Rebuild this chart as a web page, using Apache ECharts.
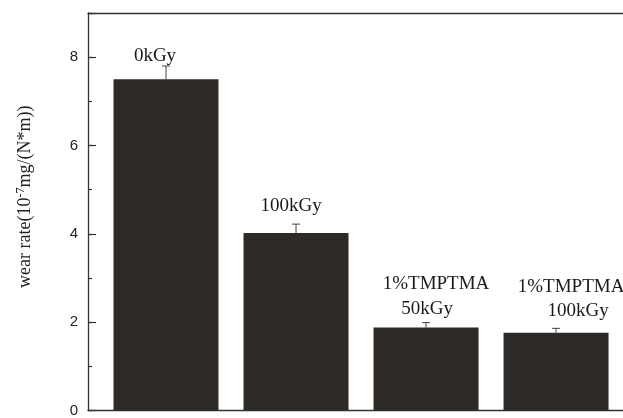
<!DOCTYPE html>
<html>
<head>
<meta charset="utf-8">
<script src="https://cdn.jsdelivr.net/npm/echarts@6/dist/echarts.min.js"></script>
<style>html,body{margin:0;padding:0;background:#fff}#c{width:623px;height:418px}</style>
</head>
<body>
<div id="c"></div>
<script>
const categories = ['0kGy', '100kGy', '1%TMPTMA 50kGy', '1%TMPTMA 100kGy'];
const labelLines = [['0kGy'], ['100kGy'], ['1%TMPTMA', '50kGy'], ['1%TMPTMA', '100kGy']];
const xPositions = [1, 2, 3, 4];
const wearRate = [7.5, 4.02, 1.88, 1.76];
const errors = [0.3, 0.2, 0.11, 0.1];
const yTickValues = [0, 2, 4, 6, 8];

// label placement (style): per bar, per line [dx from bar centre, baseline dy from error-bar top]
const labelPlace = [
  [[-11, -9]],
  [[-5, -18]],
  [[10, -38.5], [1, -13.5]],
  [[15, -41], [22, -17]]
];

const axisColor = '#333';
const chart = echarts.init(document.getElementById('c'), null, {renderer: 'canvas'});
chart.setOption({
  animation: false,
  grid: {left: 88, top: 13, right: 0, bottom: 4, containLabel: false},
  xAxis: [
    {type: 'value', min: 0.4, max: 4.515, position: 'bottom',
      axisLine: {show: true, onZero: false, lineStyle: {color: axisColor, width: 1.3}},
      axisTick: {show: false}, axisLabel: {show: false}, splitLine: {show: false}},
    {type: 'value', min: 0.4, max: 4.515, position: 'top',
      axisLine: {show: true, onZero: false, lineStyle: {color: axisColor, width: 1.3}},
      axisTick: {show: false}, axisLabel: {show: false}, splitLine: {show: false}}
  ],
  yAxis: [
    {type: 'value', min: 0, max: 9, interval: 2, position: 'left',
      axisLine: {show: true, onZero: false, lineStyle: {color: axisColor, width: 1.3}},
      axisTick: {show: true, inside: true, length: 8, lineStyle: {color: axisColor, width: 1.2}},
      axisLabel: {show: true, margin: 10, color: '#222', fontFamily: 'Liberation Sans', fontSize: 15,
        formatter: v => (yTickValues.indexOf(v) >= 0 ? String(v) : '')},
      splitLine: {show: false},
      name: 'wear rate(10{sup|-7}mg/(N*m))',
      nameLocation: 'middle', nameGap: 52,
      nameTextStyle: {fontFamily: 'Liberation Serif', fontSize: 18, color: '#222', padding: [0, 0, 0, 30],
        rich: {sup: {fontFamily: 'Liberation Serif', fontSize: 12, color: '#222', verticalAlign: 'bottom', padding: [0, 0, 9, 0]}}}
    },
    {type: 'value', min: 0, max: 9, interval: 1, position: 'left', offset: 0,
      axisLine: {show: false},
      axisTick: {show: true, inside: true, length: 4, lineStyle: {color: axisColor, width: 1.2}},
      axisLabel: {show: false}, splitLine: {show: false}}
  ],
  series: [
    {type: 'bar', xAxisIndex: 0, yAxisIndex: 0, barWidth: 105, z: 3,
      itemStyle: {color: '#2e2a27'},
      data: xPositions.map((x, i) => [x, wearRate[i]])},
    {type: 'custom', xAxisIndex: 0, yAxisIndex: 0, z: 2, clip: false,
      data: xPositions.map((x, i) => [x, wearRate[i], errors[i], i]),
      renderItem: function (params, api) {
        const x = api.value(0), y = api.value(1), e = api.value(2), idx = api.value(3);
        const base = api.coord([x, y]);
        const top = api.coord([x, y + e]);
        const children = [
          {type: 'line', shape: {x1: base[0], y1: base[1], x2: top[0], y2: top[1]}, style: {stroke: '#444', lineWidth: 1}},
          {type: 'line', shape: {x1: top[0] - 4, y1: top[1], x2: top[0] + 4, y2: top[1]}, style: {stroke: '#444', lineWidth: 1}}
        ];
        labelLines[idx].forEach((t, k) => {
          const p = labelPlace[idx][k];
          children.push({type: 'text', x: top[0] + p[0], y: top[1] + p[1] + 9,
            style: {text: t, fill: '#1a1a1a', font: '19px "Liberation Serif"', textAlign: 'center', textVerticalAlign: 'bottom', verticalAlign: 'bottom'}});
        });
        return {type: 'group', children: children};
      }}
  ]
});
</script>
</body>
</html>
